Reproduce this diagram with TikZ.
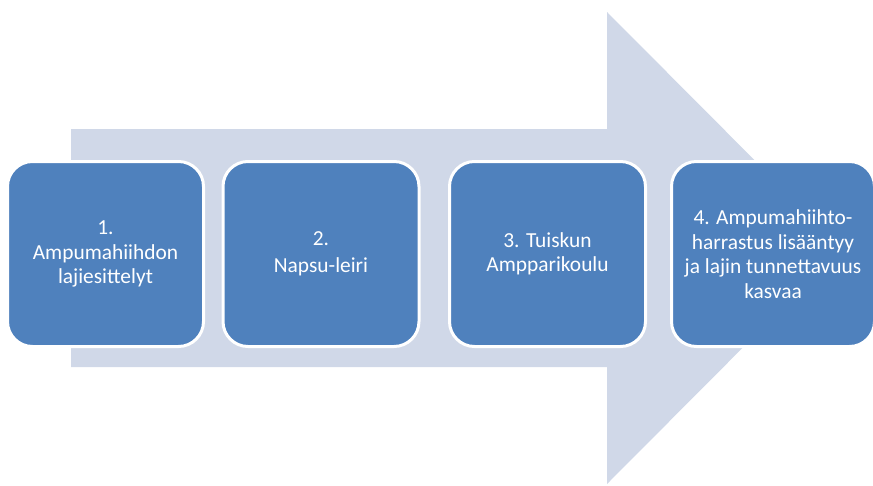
\documentclass[tikz,border=0pt]{standalone}
\usepackage{fontspec}
\setmainfont{Carlito}
\definecolor{arrowfill}{HTML}{D0D8E8}
\definecolor{boxfill}{HTML}{4F81BD}
\begin{document}
\begin{tikzpicture}[x=1pt,y=-1pt,
  stepbox/.style={draw=white, line width=3pt, fill=boxfill, rounded corners=25pt,
    minimum width=196pt, minimum height=185pt, text=white, align=center,
    font=\fontsize{21.4}{24.5}\selectfont, inner sep=0pt}]
\useasboundingbox (0,0) rectangle (873,485);
\begin{scope}
\clip (0,0) rectangle (873,485);
\fill[arrowfill] (71,129) -- (607,129) -- (607,12) -- (842,248) -- (607,484) -- (607,367) -- (71,367) -- cycle;
\node[stepbox] (b1) at (105.5,254) {1.\\Ampumahiihdon\\lajiesittelyt};
\node[stepbox] (b2) at (321,254) {2.\\[3pt]Napsu-leiri};
\node[stepbox] (b3) at (547.5,254) {3. Tuiskun\\Ampparikoulu};
\node[stepbox, minimum width=203pt] (b4) at (773,254) {4. Ampumahiihto-\\harrastus lisääntyy\\ja lajin tunnettavuus\\kasvaa};
\end{scope}
\end{tikzpicture}
\end{document}
